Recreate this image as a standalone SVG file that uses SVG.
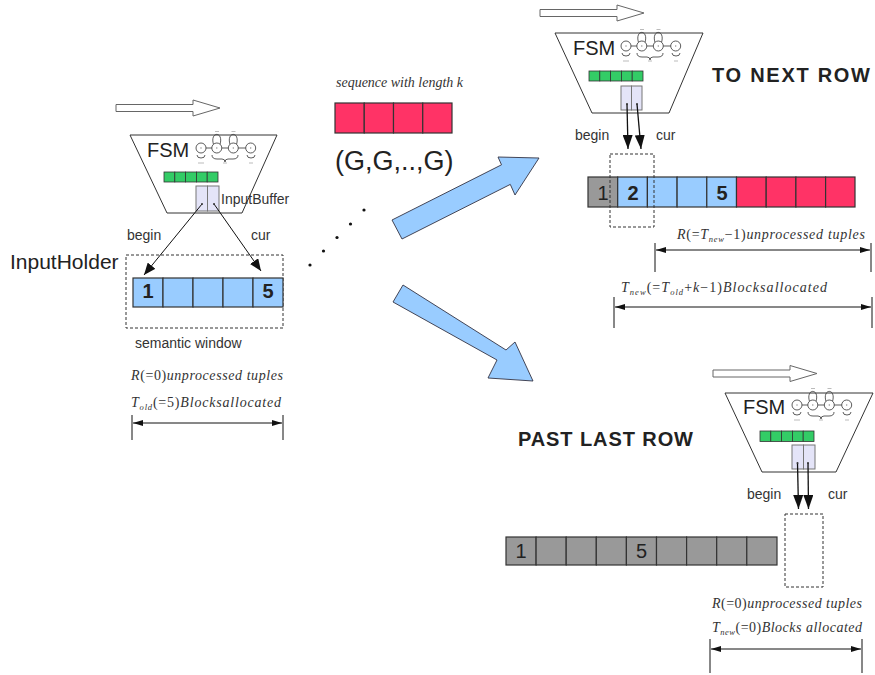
<svg xmlns="http://www.w3.org/2000/svg" xmlns:xlink="http://www.w3.org/1999/xlink" width="875" height="675" viewBox="0 0 875 675">
  <style>
    .sans { font-family: "Liberation Sans", Arial, sans-serif; fill: #222; }
    .lbl { font-family: "Liberation Sans", Arial, sans-serif; font-size: 14px; fill: #333; }
    .math { font-family: "Liberation Serif", "Times New Roman", serif; font-size: 14px; fill: #333; font-style: italic; }
    .up { font-style: normal; }
    .sub { font-size: 8.5px; }
    .trap { fill: #ffffff; stroke: #333; stroke-width: 1; }
    .hollow { fill: #ffffff; stroke: #666; stroke-width: 1; }
    .green { fill: #33cc66; stroke: #333; stroke-width: 0.8; }
    .buf { fill: #e4e4f8; stroke: #777; stroke-width: 1; }
    .blue { fill: #99ccff; stroke: #333; stroke-width: 1.2; }
    .grey { fill: #999999; stroke: #333; stroke-width: 1.2; }
    .red { fill: #ff3366; stroke: #333; stroke-width: 1.2; }
    .dash { fill: none; stroke: #333; stroke-width: 1; stroke-dasharray: 3 2; }
    .ptr { fill: none; stroke: #111; stroke-width: 1; marker-end: url(#head); }
    .ptrB { fill: none; stroke: #111; stroke-width: 1.3; marker-end: url(#headB); }
    .dim { fill: none; stroke: #111; stroke-width: 1; marker-start: url(#dimHead); marker-end: url(#dimHead); }
    .tick { stroke: #111; stroke-width: 1; }
    .big { fill: #99ccff; stroke: #334; stroke-width: 0.9; }
    .num { font-family: "Liberation Sans", Arial, sans-serif; font-size: 20px; text-anchor: middle; fill: #222; }
    .bold { font-weight: bold; }
  </style>
  <defs>
    <marker id="head" markerUnits="userSpaceOnUse" markerWidth="12" markerHeight="10" refX="12" refY="5" orient="auto">
      <path d="M0,0 L12,5 L0,10 z" fill="#111"/>
    </marker>
    <marker id="headB" markerUnits="userSpaceOnUse" markerWidth="14" markerHeight="10" refX="14" refY="5" orient="auto">
      <path d="M0,0 L14,5 L0,10 z" fill="#111"/>
    </marker>
    <marker id="dimHead" markerUnits="userSpaceOnUse" markerWidth="10" markerHeight="6" refX="10" refY="3" orient="auto-start-reverse">
      <path d="M0,0 L10,3 L0,6 z" fill="#111"/>
    </marker>
    <!-- miniature state graph drawn inside each FSM box -->
    <g id="stategraph">
      <g stroke="#999" stroke-width="1.6">
        <line x1="15.5" y1="18" x2="22" y2="18"/>
        <line x1="31.5" y1="18" x2="38.5" y2="18"/>
        <line x1="48" y1="18" x2="56" y2="18"/>
      </g>
      <g fill="none" stroke="#333" stroke-width="0.8">
        <path d="M23.5,14.5 C19.5,1 34,1 30,14.5"/>
        <path d="M40,14.5 C36,1 50.5,1 46.5,14.5"/>
        <path d="M7,25 Q7,28 11,28 Q15,28 15,25"/>
        <path d="M22,25 Q22,29 27,29 L32,29 Q35,29 35,32 Q35,29 38,29 L43,29 Q48,29 48,25"/>
        <path d="M57,25 Q57,28 61,28 Q65,28 65,25"/>
      </g>
      <g fill="#fff" stroke="#333" stroke-width="0.8">
        <circle cx="11" cy="18" r="5"/>
        <circle cx="26.8" cy="18" r="5"/>
        <circle cx="43.3" cy="18" r="5"/>
        <circle cx="60.7" cy="18" r="5"/>
      </g>
      <g fill="#888">
        <circle cx="11" cy="18" r="0.7"/>
        <circle cx="26.8" cy="18" r="0.7"/>
        <circle cx="43.3" cy="18" r="0.7"/>
        <circle cx="60.7" cy="18" r="0.7"/>
      </g>
      <g stroke="#aaa" stroke-width="0.8">
        <line x1="8" y1="33" x2="14" y2="33"/>
        <line x1="33" y1="33" x2="37" y2="33"/>
        <line x1="59" y1="33" x2="63" y2="33"/>
        <line x1="25" y1="1.5" x2="29" y2="1.5"/>
        <line x1="41.5" y1="1.5" x2="45.5" y2="1.5"/>
      </g>
    </g>
  </defs>

  <rect width="875" height="675" fill="#ffffff"/>

  <!-- ===== Left: initial state ===== -->
  <g id="fsm-left">
    <polygon class="hollow" points="116,104.5 193,104.5 193,100 220,108 193,116 193,111.5 116,111.5"/>
    <polygon class="trap" points="130,135 277,135 242,213 167,213"/>
    <text class="sans" x="147" y="157" font-size="20">FSM</text>
    <use xlink:href="#stategraph" x="190" y="130"/>
    <g>
      <rect class="green" x="164" y="172" width="10.8" height="10"/>
      <rect class="green" x="174.8" y="172" width="10.8" height="10"/>
      <rect class="green" x="185.6" y="172" width="10.8" height="10"/>
      <rect class="green" x="196.4" y="172" width="10.8" height="10"/>
      <rect class="green" x="207.2" y="172" width="10.8" height="10"/>
    </g>
    <rect class="buf" x="196" y="186" width="11.5" height="25"/>
    <rect class="buf" x="207.5" y="186" width="11.5" height="25"/>
    <text class="lbl" x="221" y="204">InputBuffer</text>
  </g>

  <g id="input-holder">
    <text class="sans" x="10" y="269" font-size="21">InputHolder</text>
    <rect class="dash" x="126" y="255" width="157" height="73"/>
    <rect class="blue" x="133" y="278" width="30" height="29"/>
    <rect class="blue" x="163" y="278" width="30" height="29"/>
    <rect class="blue" x="193" y="278" width="30" height="29"/>
    <rect class="blue" x="223" y="278" width="30" height="29"/>
    <rect class="blue" x="253" y="278" width="30" height="29"/>
    <text class="num bold" x="148" y="298">1</text>
    <text class="num bold" x="268" y="298">5</text>
    <text class="lbl" x="127" y="240">begin</text>
    <text class="lbl" x="251" y="240">cur</text>
    <text class="lbl" x="135" y="348">semantic window</text>
  </g>

  <g id="left-measures">
    <text class="math" x="131" y="380" textLength="152" lengthAdjust="spacing">R<tspan class="up">(=0)</tspan>unprocessed tuples</text>
    <text class="math" x="131" y="407" textLength="150" lengthAdjust="spacing">T<tspan class="sub" dy="3">old</tspan><tspan class="up" dy="-3">(=5)</tspan>Blocksallocated</text>
    <line class="tick" x1="132" y1="415" x2="132" y2="440"/>
    <line class="tick" x1="283" y1="415" x2="283" y2="440"/>
  </g>

  <!-- ===== Middle: incoming sequence ===== -->
  <g id="sequence">
    <text class="math" x="336" y="87" font-size="12" textLength="127" lengthAdjust="spacing">sequence with length k</text>
    <rect class="red" x="335" y="103" width="29.25" height="30"/>
    <rect class="red" x="364.25" y="103" width="29.25" height="30"/>
    <rect class="red" x="393.5" y="103" width="29.25" height="30"/>
    <rect class="red" x="422.75" y="103" width="29.25" height="30"/>
    <text class="sans" x="335" y="170" font-size="27" fill="#333">(G,G,..,G)</text>
  </g>

  <!-- ===== Top right: next row ===== -->
  <g id="fsm-next">
    <polygon class="hollow" points="540,9.5 617,9.5 617,5 644,13 617,21 617,16.5 540,16.5"/>
    <polygon class="trap" points="555,33 703,33 669,113 592,113"/>
    <text class="sans" x="573" y="55" font-size="20">FSM</text>
    <use xlink:href="#stategraph" x="615" y="28"/>
    <g>
      <rect class="green" x="589" y="71" width="10.8" height="10"/>
      <rect class="green" x="599.8" y="71" width="10.8" height="10"/>
      <rect class="green" x="610.6" y="71" width="10.8" height="10"/>
      <rect class="green" x="621.4" y="71" width="10.8" height="10"/>
      <rect class="green" x="632.2" y="71" width="10.8" height="10"/>
    </g>
    <rect class="buf" x="621" y="86" width="10.5" height="24"/>
    <rect class="buf" x="631.5" y="86" width="10.5" height="24"/>
    <text class="sans bold" x="712" y="82" font-size="20" textLength="158" lengthAdjust="spacing">TO NEXT ROW</text>
    <text class="lbl" x="575" y="140">begin</text>
    <text class="lbl" x="656" y="140">cur</text>
  </g>

  <g id="row-next">
    <rect class="grey" x="588" y="177" width="29.7" height="30"/>
    <rect class="blue" x="617.7" y="177" width="29.7" height="30"/>
    <rect class="blue" x="647.4" y="177" width="29.7" height="30"/>
    <rect class="blue" x="677.1" y="177" width="29.7" height="30"/>
    <rect class="blue" x="706.8" y="177" width="29.7" height="30"/>
    <rect class="red" x="736.5" y="177" width="29.7" height="30"/>
    <rect class="red" x="766.2" y="177" width="29.7" height="30"/>
    <rect class="red" x="795.9" y="177" width="29.7" height="30"/>
    <rect class="red" x="825.6" y="177" width="29.4" height="30"/>
    <rect class="dash" x="610" y="154" width="44" height="73"/>
    <text class="num" x="603" y="200">1</text>
    <text class="num bold" x="633" y="200">2</text>
    <text class="num bold" x="722" y="200">5</text>
  </g>

  <g id="next-measures">
    <text class="math" x="677" y="239" textLength="188" lengthAdjust="spacing">R<tspan class="up">(=</tspan>T<tspan class="sub" dy="3">new</tspan><tspan class="up" dy="-3">−1)</tspan>unprocessed tuples</text>
    <line class="tick" x1="655" y1="243" x2="655" y2="272"/>
    <line class="tick" x1="871" y1="243" x2="871" y2="272"/>
    <text class="math" x="621" y="292" textLength="206" lengthAdjust="spacing">T<tspan class="sub" dy="3">new</tspan><tspan class="up" dy="-3">(=</tspan>T<tspan class="sub" dy="3">old</tspan><tspan class="up" dy="-3">+</tspan>k<tspan class="up">−1)</tspan>Blocksallocated</text>
    <line class="tick" x1="614" y1="297" x2="614" y2="328"/>
    <line class="tick" x1="872" y1="297" x2="872" y2="328"/>
  </g>

  <!-- ===== Bottom right: past the last row ===== -->
  <g id="fsm-past">
    <polygon class="hollow" points="713,370 790,370 790,365.5 817,373.5 790,381.5 790,377 713,377"/>
    <polygon class="trap" points="725,393 873,393 836,472 762,472"/>
    <text class="sans" x="743" y="414" font-size="20">FSM</text>
    <use xlink:href="#stategraph" x="786" y="387"/>
    <g>
      <rect class="green" x="760" y="431" width="10.8" height="10.5"/>
      <rect class="green" x="770.8" y="431" width="10.8" height="10.5"/>
      <rect class="green" x="781.6" y="431" width="10.8" height="10.5"/>
      <rect class="green" x="792.4" y="431" width="10.8" height="10.5"/>
      <rect class="green" x="803.2" y="431" width="10.8" height="10.5"/>
    </g>
    <rect class="buf" x="792" y="445" width="11.5" height="24"/>
    <rect class="buf" x="803.5" y="445" width="11.5" height="24"/>
    <text class="sans bold" x="518" y="446" font-size="20" textLength="175" lengthAdjust="spacing">PAST LAST ROW</text>
    <text class="lbl" x="747" y="499">begin</text>
    <text class="lbl" x="828" y="499">cur</text>
  </g>

  <g id="row-past">
    <rect class="grey" x="506" y="537" width="30.1" height="28"/>
    <rect class="grey" x="536.1" y="537" width="30.1" height="28"/>
    <rect class="grey" x="566.2" y="537" width="30.1" height="28"/>
    <rect class="grey" x="596.3" y="537" width="30.1" height="28"/>
    <rect class="grey" x="626.4" y="537" width="30.1" height="28"/>
    <rect class="grey" x="656.5" y="537" width="30.1" height="28"/>
    <rect class="grey" x="686.6" y="537" width="30.1" height="28"/>
    <rect class="grey" x="716.7" y="537" width="30.1" height="28"/>
    <rect class="grey" x="746.8" y="537" width="30.2" height="28"/>
    <rect class="dash" x="785" y="514" width="38" height="73"/>
    <text class="num" x="521" y="558">1</text>
    <text class="num" x="641.5" y="558">5</text>
  </g>

  <g id="past-measures">
    <text class="math" x="712" y="608" textLength="150" lengthAdjust="spacing">R<tspan class="up">(=0)</tspan>unprocessed tuples</text>
    <text class="math" x="712" y="632" textLength="150" lengthAdjust="spacing">T<tspan class="sub" dy="3">new</tspan><tspan class="up" dy="-3">(=0)</tspan>Blocks allocated</text>
    <line class="tick" x1="710" y1="639" x2="710" y2="673"/>
    <line class="tick" x1="862" y1="639" x2="862" y2="673"/>
  </g>

  <!-- ===== Connectors ===== -->
  <g id="connectors">
    <!-- begin / cur pointers -->
    <line class="ptr" x1="202" y1="204" x2="144" y2="275"/>
    <line class="ptr" x1="214" y1="204" x2="261" y2="271"/>
    <circle cx="202" cy="204" r="1" fill="#333"/>
    <circle cx="214" cy="204" r="1" fill="#333"/>

    <line class="ptrB" x1="627" y1="104" x2="628" y2="149"/>
    <line class="ptrB" x1="637" y1="104" x2="641" y2="149"/>
    <circle cx="627" cy="104" r="1" fill="#333"/>
    <circle cx="637" cy="104" r="1" fill="#333"/>

    <line class="ptrB" x1="797.5" y1="463" x2="798.5" y2="509"/>
    <line class="ptrB" x1="808" y1="463" x2="808.5" y2="509"/>
    <circle cx="797.5" cy="463" r="1" fill="#333"/>
    <circle cx="808" cy="463" r="1" fill="#333"/>

    <!-- dimension arrows -->
    <line class="dim" x1="133" y1="423" x2="282" y2="423"/>
    <line class="dim" x1="656" y1="250" x2="870" y2="250"/>
    <line class="dim" x1="615" y1="307" x2="871" y2="307"/>
    <line class="dim" x1="711" y1="649" x2="861" y2="649"/>

    <!-- dotted continuation -->
    <g fill="#111">
      <circle cx="364" cy="210" r="1.6"/>
      <circle cx="350.5" cy="224" r="1.6"/>
      <circle cx="337" cy="237.5" r="1.6"/>
      <circle cx="323.5" cy="251" r="1.6"/>
      <circle cx="310" cy="265" r="1.6"/>
    </g>

    <!-- transition arrows -->
    <polygon class="big" points="392,220 501.5,164.8 498,157 539,158 515,195 510.3,184.4 402,239"/>
    <polygon class="big" points="403,285 506,350 515,342 533,381 488,378 497,360 393,302"/>
  </g>
</svg>
